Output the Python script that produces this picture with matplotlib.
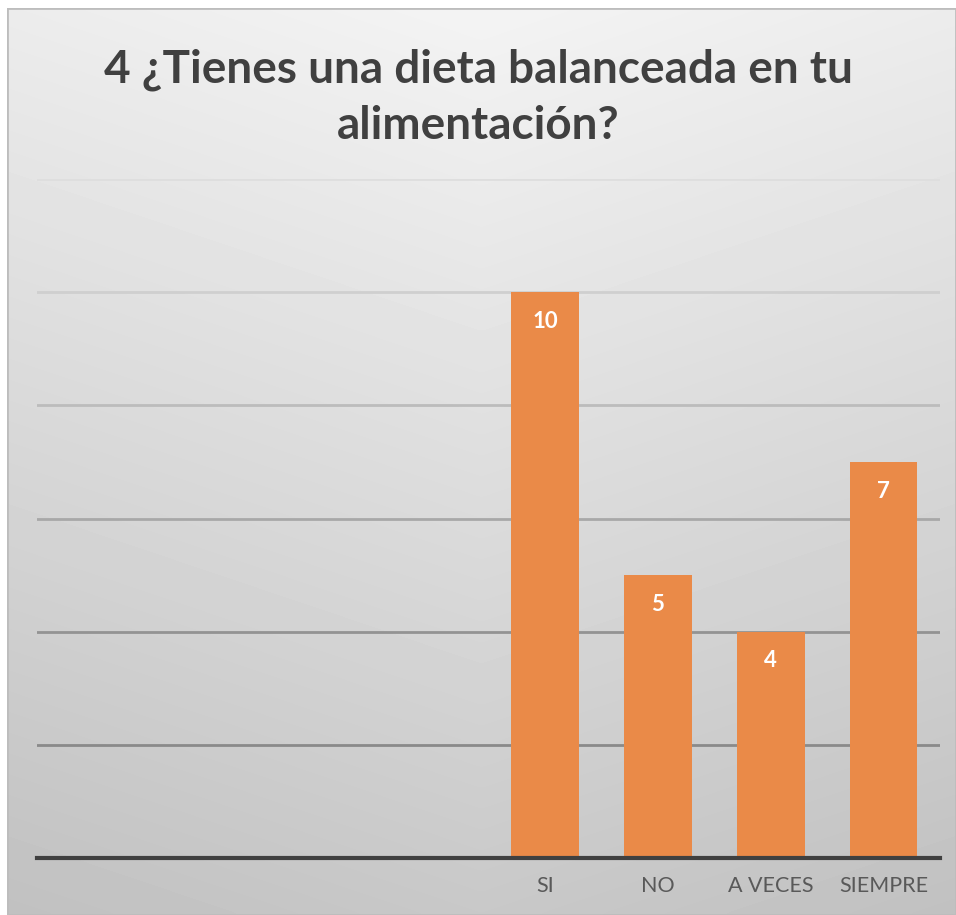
import matplotlib.pyplot as plt
import numpy as np
from matplotlib.patches import Rectangle

# datos de la encuesta (las 4 primeras categorías están vacías)
categorias = ["", "", "", "", "SI", "NO", "A VECES", "SIEMPRE"]
valores = [0, 0, 0, 0, 10, 5, 4, 7]
etiquetas = ["", "", "", "", "10", "5", "4", "7"]
ticks_y = [0, 2, 4, 6, 8, 10, 12]

titulo = "4 ¿Tienes una dieta balanceada en tu\nalimentación?"

NARANJA = "#ea8a48"
fuente = ["Lato", "DejaVu Sans"]

fig = plt.figure(figsize=(9.56, 9.15), dpi=100)
fig.patch.set_facecolor("white")

# fondo con degradado (claro arriba en el centro, más oscuro abajo)
bg = fig.add_axes([7 / 956, 0, 949 / 956, 907 / 915], zorder=0)
yy, xx = np.mgrid[0:1:300j, -1:1:300j]
grad = 0.955 - 0.17 * yy - 0.03 * np.abs(xx)
bg.imshow(grad, cmap="gray", vmin=0, vmax=1, aspect="auto",
          extent=[0, 1, 1, 0], interpolation="bicubic")
bg.add_patch(Rectangle((0, 0), 1, 1, fill=False, edgecolor="#bdbdbd",
                       linewidth=2, transform=bg.transAxes))
bg.set_axis_off()

ax = fig.add_axes([37 / 956, 57 / 915, 903 / 956, (858 - 179) / 915], zorder=1)
ax.patch.set_alpha(0)

x = np.arange(len(categorias))
barras = ax.bar(x, valores, width=0.6, color=NARANJA, zorder=3)
for b, v, et in zip(barras, valores, etiquetas):
    if et:
        ax.text(b.get_x() + b.get_width() / 2, v - 0.33, et, ha="center",
                va="top", color="white", fontsize=16, fontweight="bold",
                family=fuente, zorder=4)

ax.set_xlim(-0.5, len(categorias) - 0.5)
ax.set_ylim(0, 12)
ax.set_yticks(ticks_y)
ax.set_yticklabels([])
ax.tick_params(axis="y", length=0)
ax.set_xticks(x)
ax.set_xticklabels(categorias, fontsize=15.5, color="#595959", family=fuente)
ax.tick_params(axis="x", length=0, pad=13)

# líneas de cuadrícula: más claras arriba, más oscuras abajo
colores_grid = {2: "#8a8a8a", 4: "#939393", 6: "#a8a8a8",
                8: "#bcbcbc", 10: "#cfcfcf", 12: "#dedede"}
for yv, c in colores_grid.items():
    ax.axhline(yv, color=c, linewidth=2, zorder=1)

for s in ["top", "right", "left"]:
    ax.spines[s].set_visible(False)
ax.spines["bottom"].set_color("#404040")
ax.spines["bottom"].set_linewidth(3)
ax.spines["bottom"].set_zorder(5)

fig.text(0.5, 0.893, titulo, ha="center", va="center", fontsize=33,
         fontweight="bold", color="#404040", family=fuente, linespacing=1.4)

fig.savefig("out.png", dpi=100)
